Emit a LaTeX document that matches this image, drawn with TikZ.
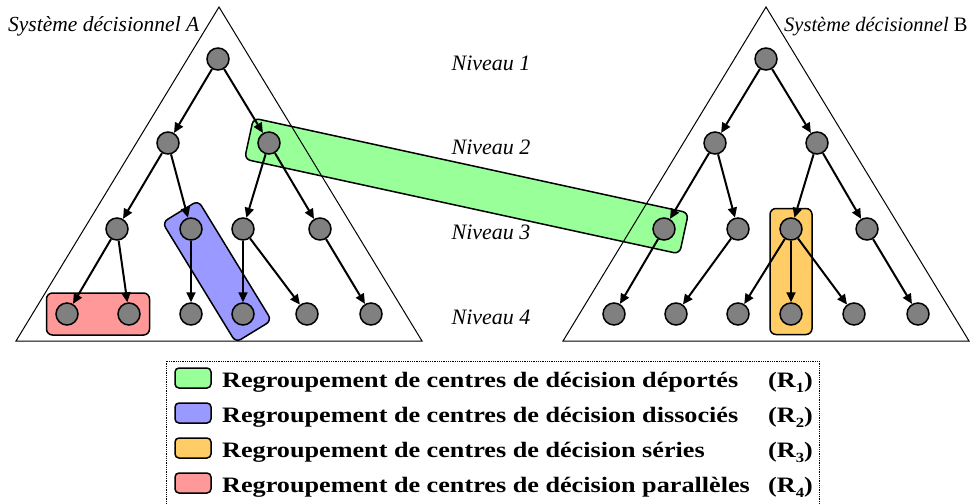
\documentclass[tikz,border=0pt]{standalone}
\usepackage{fontspec}
\setmainfont{Liberation Serif}
\newfontfamily\legendfont[FakeStretch=1.19]{Liberation Serif}
\usetikzlibrary{arrows.meta,calc,backgrounds}

\definecolor{vert}{HTML}{99FF99}
\definecolor{bleu}{HTML}{9999FF}
\definecolor{orange}{HTML}{FFCC66}
\definecolor{rose}{HTML}{FF9999}

\tikzset{
  centre/.style={circle, draw, line width=1.5pt, fill=gray, minimum size=22pt, inner sep=0pt},
  fleche/.style={-{Triangle[length=10pt,width=9pt]}, line width=2pt},
  groupe/.style={draw, line width=1.5pt, rounded corners=6pt, minimum height=42pt, inner sep=0pt},
  niveau/.style={font=\fontsize{22}{26}\selectfont\itshape},
  systeme/.style={anchor=base west, inner sep=0pt},
  legende/.style={font=\legendfont\bfseries\fontsize{22}{26}\selectfont, anchor=base west, inner sep=0pt},
  pastille/.style={draw, line width=1.5pt, rounded corners=4pt, minimum width=36pt, minimum height=20pt, inner sep=0pt}
}

% box round two centres: colour, first centre, last centre
\newcommand{\regroupe}[3]{%
  \path let \p1=($(#3)-(#2)$), \n1={atan2(\y1,\x1)}, \n2={veclen(\x1,\y1)+41} in
    node[groupe, fill=#1, rotate=\n1, minimum width=\n2] at ($(#2)!0.5!(#3)$) {};}
% lowered index in the legend
\newcommand{\indice}[1]{\raisebox{-5pt}{\fontsize{14}{16}\selectfont #1}}

\begin{document}
\begin{tikzpicture}[x=1pt, y=-1pt]
\useasboundingbox (0,0) rectangle (973,503);

% systeme A
\node[centre] (A1) at (218,59) {};
\node[centre] (A21) at (168,143) {};
\node[centre] (A22) at (269,143) {};
\node[centre] (A31) at (117,229) {};
\node[centre] (A32) at (191,229) {};
\node[centre] (A33) at (243,229) {};
\node[centre] (A34) at (320,229) {};
\node[centre] (A41) at (67,314) {};
\node[centre] (A42) at (129,314) {};
\node[centre] (A43) at (191,314) {};
\node[centre] (A44) at (243,314) {};
\node[centre] (A45) at (307,314) {};
\node[centre] (A46) at (371,314) {};

% systeme B
\node[centre] (B1) at (766,59) {};
\node[centre] (B21) at (715,143) {};
\node[centre] (B22) at (817,143) {};
\node[centre] (B31) at (664,229) {};
\node[centre] (B32) at (738,229) {};
\node[centre] (B33) at (791,229) {};
\node[centre] (B34) at (867,229) {};
\node[centre] (B41) at (614,314) {};
\node[centre] (B42) at (676,314) {};
\node[centre] (B43) at (738,314) {};
\node[centre] (B44) at (791,314) {};
\node[centre] (B45) at (854,314) {};
\node[centre] (B46) at (918,314) {};

% liens
\foreach \a/\b in {A1/A21, A1/A22, A21/A31, A21/A32, A22/A33, A22/A34,
    A31/A41, A31/A42, A32/A43, A33/A44, A33/A45, A34/A46,
    B1/B21, B1/B22, B21/B31, B21/B32, B22/B33, B22/B34,
    B31/B41, B32/B42, B33/B43, B33/B44, B33/B45, B34/B46}
  \draw[fleche] (\a) -- (\b);

\begin{scope}[on background layer]
% niveaux
\node[niveau] (niv1) at (491,63) {Niveau 1};
\node[niveau] (niv2) at (491,147.5) {Niveau 2};
\node[niveau] (niv3) at (491,232) {Niveau 3};
\node[niveau] (niv4) at (491,317) {Niveau 4};

% regroupements
\regroupe{vert}{A22}{B31}
\regroupe{bleu}{A32}{A44}
\regroupe{orange}{B33}{B44}
\regroupe{rose}{A41}{A42}

% triangles
\draw[line width=1pt] (219,7) -- (422,341) -- (16,341) -- cycle;
\draw[line width=1pt] (766,7) -- (969,341) -- (563,341) -- cycle;
\end{scope}

\node[systeme, font=\fontsize{21.5}{26}\selectfont] (sysA) at (8,32) {\textit{Système décisionnel A}};
\node[systeme, font=\fontsize{20.5}{26}\selectfont] (sysB) at (784,32) {\textit{Système décisionnel} B};

% legende
\draw[densely dotted, line width=0.8pt] (166,520) -- (166,361) -- (819,361) -- (819,520);
\node[pastille, fill=vert] (p1) at (193,378) {};
\node[pastille, fill=bleu] (p2) at (193,413) {};
\node[pastille, fill=orange] (p3) at (193,448) {};
\node[pastille, fill=rose] (p4) at (193,483) {};
\node[legende] (t1) at (222,387) {Regroupement de centres de décision déportés};
\node[legende] (t2) at (222,422) {Regroupement de centres de décision dissociés};
\node[legende] (t3) at (222,457) {Regroupement de centres de décision séries};
\node[legende] (t4) at (222,492) {Regroupement de centres de décision parallèles};
\node[legende] (r1) at (768,387) {(R\indice{1})};
\node[legende] (r2) at (768,422) {(R\indice{2})};
\node[legende] (r3) at (768,457) {(R\indice{3})};
\node[legende] (r4) at (768,492) {(R\indice{4})};

\end{tikzpicture}
\end{document}
